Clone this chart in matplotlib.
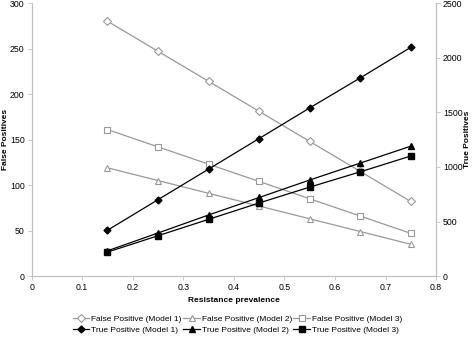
import numpy as np
import matplotlib.pyplot as plt

# resistance prevalence
prev = [0.15, 0.25, 0.35, 0.45, 0.55, 0.65, 0.75]

# false positives (left axis)
fp_m1 = [280, 247, 214, 181, 148, 115, 82]
fp_m2 = [119, 105, 91, 77, 63, 49, 35]
fp_m3 = [161, 142, 123, 104, 85, 66, 47]

# true positives (right axis)
tp_m1 = [420, 700, 980, 1260, 1540, 1815, 2095]
tp_m2 = [232, 395, 560, 720, 880, 1035, 1190]
tp_m3 = [220, 370, 520, 670, 815, 955, 1100]

plt.rcParams['font.family'] = ['Liberation Sans', 'DejaVu Sans']
plt.rcParams['font.size'] = 6

fig = plt.figure(figsize=(4.72, 3.38), dpi=100)
ax = fig.add_axes([0.067, 0.183, 0.857, 0.808])
ax2 = ax.twinx()

gray = '#999999'
fp_kw = dict(color=gray, lw=0.9, mfc='white', mec=gray, mew=0.8)
tp_kw = dict(color='black', lw=0.9, mfc='black', mec='black')

h_fp1, = ax.plot(prev, fp_m1, marker='D', ms=4, label='False Positive (Model 1)', **fp_kw)
h_fp2, = ax.plot(prev, fp_m2, marker='^', ms=5, label='False Positive (Model 2)', **fp_kw)
h_fp3, = ax.plot(prev, fp_m3, marker='s', ms=5, label='False Positive (Model 3)', **fp_kw)

h_tp1, = ax2.plot(prev, tp_m1, marker='D', ms=3.5, label='True Positive (Model 1)', **tp_kw)
h_tp2, = ax2.plot(prev, tp_m2, marker='^', ms=5, label='True Positive (Model 2)', **tp_kw)
h_tp3, = ax2.plot(prev, tp_m3, marker='s', ms=5, label='True Positive (Model 3)', **tp_kw)

ax.set_xlim(0, 0.8)
ax.set_ylim(0, 300)
ax2.set_ylim(0, 2500)
ax.set_xticks(np.arange(0, 0.81, 0.1))
ax.set_xticklabels(['0', '0.1', '0.2', '0.3', '0.4', '0.5', '0.6', '0.7', '0.8'])
ax.set_yticks(range(0, 301, 50))
ax2.set_yticks(range(0, 2501, 500))

for a in (ax, ax2):
    a.spines['top'].set_visible(False)
    for s in ('left', 'right', 'bottom'):
        a.spines[s].set_color('#c0c0c0')
        a.spines[s].set_linewidth(0.8)
    a.tick_params(length=3, width=0.6, color='#c0c0c0', pad=2, labelsize=6.3)

ax.set_xlabel('Resistance prevalence', fontweight='bold')
ax.xaxis.set_label_coords(0.5, -0.075)
ax.set_ylabel('False Positives', fontweight='bold')
ax.yaxis.set_label_coords(-0.055, 0.5)
ax2.set_ylabel('True Positives', fontweight='bold')
ax2.yaxis.set_label_coords(1.07, 0.5)

handles = [h_fp1, h_tp1, h_fp2, h_tp2, h_fp3, h_tp3]
fig.legend(handles=handles, labels=[h.get_label() for h in handles],
           ncol=3, loc='center', bbox_to_anchor=(0.503, 0.04), frameon=False,
           handlelength=2.0, handletextpad=0.2, columnspacing=0.2,
           labelspacing=0.3, fontsize=6)

plt.savefig('out.png', dpi=100)
